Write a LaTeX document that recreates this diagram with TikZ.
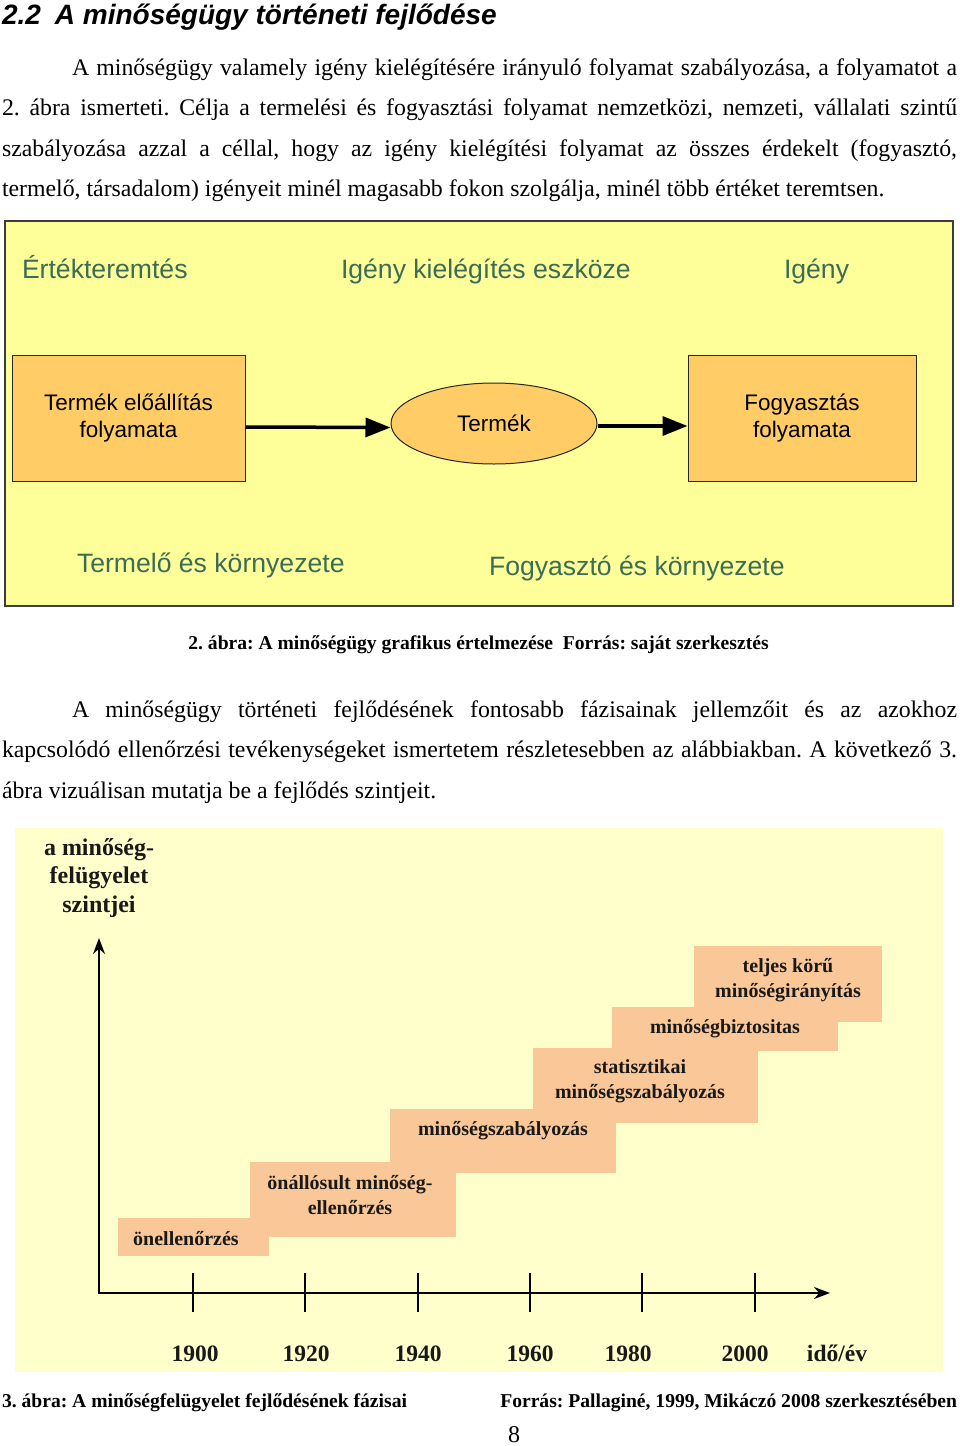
\documentclass[tikz,border=0pt]{standalone}
\usepackage{fontspec}
\usetikzlibrary{arrows.meta,shapes.geometric}
\setmainfont{Liberation Serif}
\newfontfamily\bodyf{Liberation Serif}
\newfontfamily\headf{Liberation Sans}
\newfontfamily\arialf{Liberation Sans}
\newfontfamily\serf{Liberation Serif}
\newcommand{\fsz}[2]{\fontsize{#1}{#2}\selectfont}
\definecolor{figyellow}{RGB}{255,255,153}
\definecolor{boxorange}{RGB}{255,204,102}
\definecolor{greentxt}{RGB}{58,108,88}
\definecolor{framegray}{RGB}{60,60,60}
\definecolor{bgpale}{RGB}{255,255,204}
\definecolor{peach}{RGB}{250,200,152}
\frenchspacing
\tikzset{
  txt/.style={inner sep=0pt, outer sep=0pt, anchor=base west},
  bodytxt/.style={txt, font=\bodyf\frenchspacing\fsz{23.8}{23.8}},
  gtext/.style={txt, text=greentxt, font=\arialf\fsz{26.6}{26.6}},
  procbox/.style={draw=black!85, line width=1pt, fill=boxorange, minimum width=233pt, minimum height=126pt, align=center, inner sep=0pt, font=\arialf\fsz{22.5}{27}},
  ellbox/.style={ellipse, draw=black!85, line width=1pt, fill=boxorange, minimum width=206pt, minimum height=81pt, inner sep=0pt, font=\arialf\fsz{22.5}{27}},
  flowarrow/.style={line width=3.5pt, -{Triangle[length=25pt,width=19pt]}},
  captxt/.style={inner sep=0pt, outer sep=0pt, font=\bodyf\frenchspacing\bfseries\fsz{19.6}{19.6}},
  stepbox/.style={fill=peach, inner sep=0pt, outer sep=0pt, anchor=north west},
  steplbl/.style={inner sep=0pt, align=center, font=\serf\bfseries\fsz{20}{25}, text=black!90},
  axisline/.style={line width=1.5pt, {Stealth[length=16pt,width=12pt]}-{Stealth[length=16pt,width=12pt]}},
  tickline/.style={line width=1.2pt},
  yearlbl/.style={inner sep=0pt, anchor=base, font=\serf\bfseries\fsz{23.5}{23.5}, text=black!90}
}
\begin{document}
\begin{tikzpicture}[x=1pt,y=-1pt]
\useasboundingbox (0,0) rectangle (960,1446);
\fill[white] (0,0) rectangle (960,1446);

% heading
\node[txt, font=\headf\bfseries\itshape\fsz{28}{28}] (title) at (2,24) {2.2\hspace{14pt}A minőségügy történeti fejlődése};

% paragraph 1
\node[bodytxt] (p1a) at (72,75) {\makebox[885pt][s]{A minőségügy valamely igény kielégítésére irányuló folyamat szabályozása, a folyamatot a}};
\node[bodytxt] (p1b) at (2,115.5) {\makebox[955pt][s]{2. ábra ismerteti. Célja a termelési és fogyasztási folyamat nemzetközi, nemzeti, vállalati szintű}};
\node[bodytxt] (p1c) at (2,156) {\makebox[955pt][s]{szabályozása azzal a céllal, hogy az igény kielégítési folyamat az összes érdekelt (fogyasztó,}};
\node[bodytxt] (p1d) at (2,196.5) {termelő, társadalom) igényeit minél magasabb fokon szolgálja, minél több értéket teremtsen.};

% figure 2
\node[draw=framegray, line width=1.8pt, fill=figyellow, minimum width=948pt, minimum height=385pt, inner sep=0pt, anchor=north west] (fig2) at (4,220) {};
\node[gtext] (h1) at (22,278) {Értékteremtés};
\node[gtext] (h2) at (341,278) {Igény kielégítés eszköze};
\node[gtext] (h3) at (784,278) {Igény};
\node[gtext] (f1) at (77,572) {Termelő és környezete};
\node[gtext] (f2) at (489,575) {Fogyasztó és környezete};
\node[procbox] (b1) at (128.5,418) {Termék előállítás\\folyamata};
\node[ellbox] (el) at (494,423.5) {Termék};
\node[procbox, minimum width=228pt] (b2) at (802,418) {Fogyasztás\\folyamata};
\draw[flowarrow] ([yshift=-9pt]b1.east) -- ([yshift=-4pt]el.west);
\draw[flowarrow] ([yshift=-2.5pt]el.east) -- ([yshift=-8pt]b2.west);

\node[captxt, anchor=base] (cap2) at (478.5,649) {2. ábra: A minőségügy grafikus értelmezése\hspace{0.5em}Forrás: saját szerkesztés};

% paragraph 2
\node[bodytxt] (p2a) at (72,717) {\makebox[885pt][s]{A minőségügy történeti fejlődésének fontosabb fázisainak jellemzőit és az azokhoz}};
\node[bodytxt] (p2b) at (2,757.5) {\makebox[955pt][s]{kapcsolódó ellenőrzési tevékenységeket ismertetem részletesebben az alábbiakban. A következő 3.}};
\node[bodytxt] (p2c) at (2,798) {ábra vizuálisan mutatja be a fejlődés szintjeit.};

% figure 3
\node[fill=bgpale, minimum width=928pt, minimum height=544pt, inner sep=0pt, anchor=north west] (fig3) at (15,828) {};
\node[inner sep=0pt, align=center, font=\serf\bfseries\fsz{24}{28.5}, text=black!90] (ytitle) at (99,878) {a minőség-\\felügyelet\\szintjei};

\node[stepbox, minimum width=188pt, minimum height=76pt] (s6) at (694,946) {};
\node[stepbox, minimum width=226pt, minimum height=44pt] (s5) at (612,1007) {};
\node[stepbox, minimum width=225pt, minimum height=75pt] (s4) at (533,1048) {};
\node[stepbox, minimum width=226pt, minimum height=64pt] (s3) at (390,1109) {};
\node[stepbox, minimum width=206pt, minimum height=75pt] (s2) at (250,1162) {};
\node[stepbox, minimum width=151pt, minimum height=38pt] (s1) at (118,1218) {};

\node[steplbl] (l6) at (788,980) {teljes körű\\minőségirányítás};
\node[steplbl] (l5) at (725,1029) {minőségbiztositas};
\node[steplbl] (l4) at (640,1081) {statisztikai\\minőségszabályozás};
\node[steplbl] (l3) at (503,1131) {minőségszabályozás};
\node[steplbl] (l2) at (350,1195) {önállósult minőség-\\ellenőrzés};
\node[steplbl] (l1) at (186,1239) {önellenőrzés};

\coordinate (ytip) at (99,938);
\coordinate (orig) at (99,1293);
\coordinate (xtip) at (830,1293);
\draw[axisline] (ytip) -- (orig) -- (xtip);
\foreach \x in {193,305,418,530,642,755} \draw[tickline] (\x,1273) -- (\x,1312);

\node[yearlbl] (y1) at (195,1361) {1900};
\node[yearlbl] (y2) at (306,1361) {1920};
\node[yearlbl] (y3) at (418,1361) {1940};
\node[yearlbl] (y4) at (530,1361) {1960};
\node[yearlbl] (y5) at (628,1361) {1980};
\node[yearlbl] (y6) at (745,1361) {2000};
\node[yearlbl] (y7) at (837,1361) {idő/év};

\node[captxt, anchor=base west] (cap3a) at (2,1407) {3. ábra: A minőségfelügyelet fejlődésének fázisai};
\node[captxt, anchor=base east] (cap3b) at (957,1407) {Forrás: Pallaginé, 1999, Mikáczó 2008 szerkesztésében};
\node[inner sep=0pt, anchor=base, font=\bodyf\fsz{24}{24}] (pgnum) at (514,1442) {8};
\end{tikzpicture}
\end{document}
